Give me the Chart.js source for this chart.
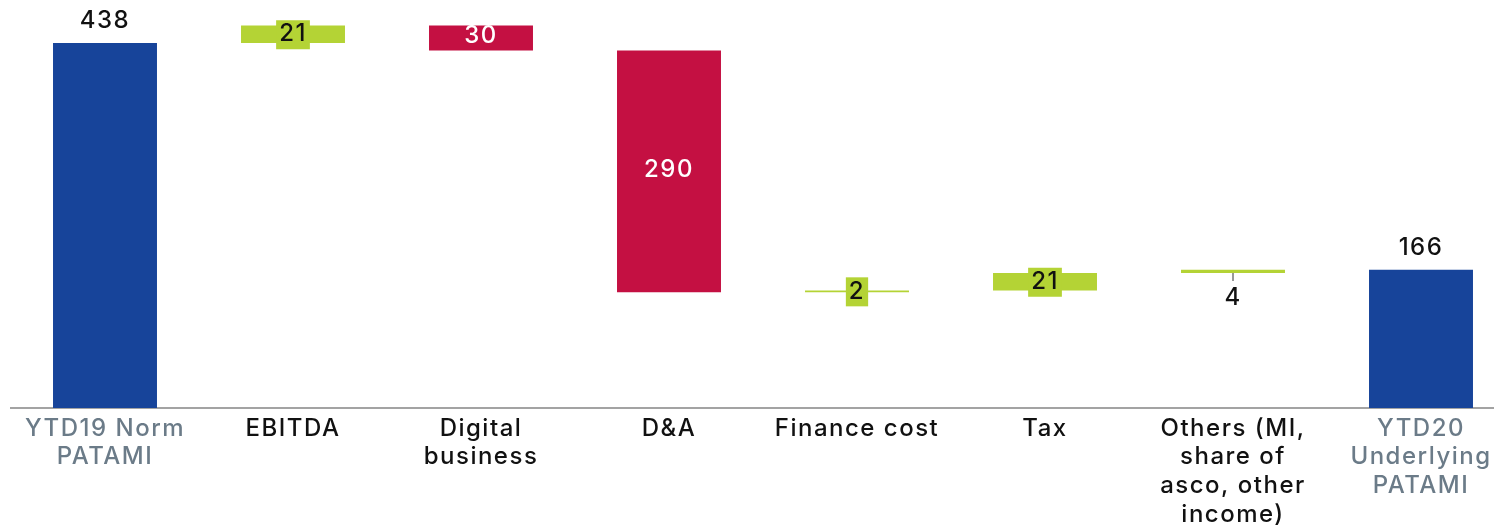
<!DOCTYPE html>
<html lang="en">
<head>
  <meta charset="UTF-8" />
  <title>PATAMI bridge YTD19 to YTD20</title>
  <script src="https://cdn.jsdelivr.net/npm/chart.js"></script>
  <style>
    html, body {
      margin: 0;
      padding: 0;
      background: #ffffff;
      overflow: hidden;
    }
    #bridge {
      display: block;
    }
  </style>
</head>
<body>
  <canvas id="bridge" width="1515" height="530"></canvas>

  <script>
    // bridge steps, left to right
    const categories = [
      ['YTD19 Norm', 'PATAMI'],
      'EBITDA',
      ['Digital', 'business'],
      'D&A',
      'Finance cost',
      'Tax',
      ['Others (MI,', 'share of', 'asco, other', 'income)'],
      ['YTD20', 'Underlying', 'PATAMI']
    ];
    const startValue = 438;
    const deltas = [21, -30, -290, 2, 21, 4];
    const endValue = 166;

    const BLUE = '#17449a';
    const RED = '#c41042';
    const GREEN = '#b4d335';
    const GREY_TEXT = '#6b7b88';
    const FONT = "'Inter', sans-serif";

    // floating [low, high] pairs built from running total
    const ranges = [[0, startValue]];
    const colors = [BLUE];
    const labels = [String(startValue)];
    let running = startValue;
    deltas.forEach(d => {
      const next = running + d;
      ranges.push([Math.min(running, next), Math.max(running, next)]);
      colors.push(d >= 0 ? GREEN : RED);
      labels.push(String(Math.abs(d)));
      running = next;
    });
    ranges.push([0, endValue]);
    colors.push(BLUE);
    labels.push(String(endValue));

    // how each value label is drawn
    const labelMode = ['above', 'boxed', 'inside', 'inside', 'boxed', 'boxed', 'below', 'above'];

    // wider tracking for all canvas text
    const tracking = {
      id: 'tracking',
      beforeDraw(chart) {
        chart.ctx.letterSpacing = '1.5px';
      }
    };

    const valueLabels = {
      id: 'valueLabels',
      afterDatasetsDraw(chart) {
        const ctx = chart.ctx;
        const meta = chart.getDatasetMeta(0);
        ctx.save();
        ctx.font = `500 24px ${FONT}`;
        ctx.textAlign = 'center';
        ctx.textBaseline = 'middle';
        meta.data.forEach((bar, i) => {
          const text = labels[i];
          const top = Math.min(bar.y, bar.base);
          const bottom = Math.max(bar.y, bar.base);
          const mid = (top + bottom) / 2;
          const mode = labelMode[i];
          if (mode === 'above') {
            ctx.fillStyle = '#111';
            ctx.fillText(text, bar.x, top - 22);
          } else if (mode === 'inside') {
            ctx.fillStyle = '#fff';
            ctx.fillText(text, bar.x, mid - 2);
          } else if (mode === 'boxed') {
            const w = ctx.measureText(text).width + 6;
            ctx.fillStyle = GREEN;
            ctx.fillRect(bar.x - w / 2, mid - 14, w, 29);
            ctx.fillStyle = '#111';
            ctx.fillText(text, bar.x, mid);
          } else if (mode === 'below') {
            ctx.strokeStyle = '#333';
            ctx.lineWidth = 1;
            ctx.beginPath();
            ctx.moveTo(bar.x, bottom);
            ctx.lineTo(bar.x, bottom + 8);
            ctx.stroke();
            ctx.fillStyle = '#111';
            ctx.fillText(text, bar.x, bottom + 25);
          }
        });
        ctx.restore();
      }
    };

    new Chart(document.getElementById('bridge'), {
      type: 'bar',
      data: {
        labels: categories,
        datasets: [{
          data: ranges,
          backgroundColor: colors,
          borderWidth: 0,
          borderSkipped: false,
          categoryPercentage: 1,
          barPercentage: 0.553
        }]
      },
      options: {
        responsive: false,
        animation: false,
        devicePixelRatio: 1,
        layout: { padding: { left: 11, right: 0, top: 8, bottom: 0 } },
        plugins: {
          legend: { display: false },
          tooltip: { enabled: false }
        },
        scales: {
          x: {
            grid: { display: false, drawTicks: false },
            border: { display: true, color: '#a3a3a3', width: 2 },
            ticks: {
              maxRotation: 0,
              autoSkip: false,
              padding: 6,
              font: { family: FONT, size: 24, weight: '500', lineHeight: 1.2 },
              color: ctx => (ctx.index === 0 || ctx.index === categories.length - 1) ? GREY_TEXT : '#111'
            },
            afterFit: scale => { scale.height = 122; }
          },
          y: {
            display: false,
            min: 0,
            max: 480
          }
        }
      },
      plugins: [tracking, valueLabels]
    });
  </script>
</body>
</html>
